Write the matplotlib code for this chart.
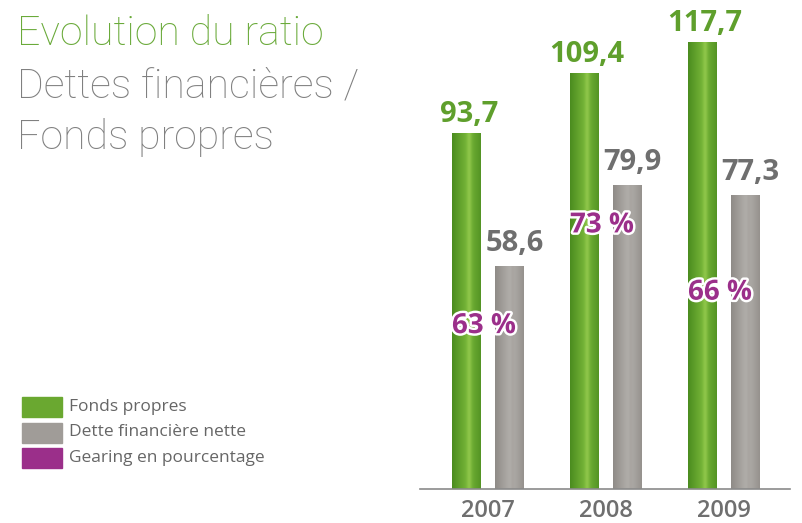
import numpy as np
import matplotlib
matplotlib.use('Agg')
import matplotlib.pyplot as plt
import matplotlib.patheffects as pe
from matplotlib.patches import Rectangle

# données
annees = ['2007', '2008', '2009']
fonds_propres = [93.7, 109.4, 117.7]
dette_nette = [58.6, 79.9, 77.3]
gearing = ['63 %', '73 %', '66 %']
legende = ['Fonds propres', 'Dette financière nette', 'Gearing en pourcentage']

# position verticale des étiquettes de gearing (en unités de l'axe)
gearing_y = [43.0, 69.5, 51.8]

vert = '#5f9f2c'
gris = '#6f6f6f'
violet = '#9b2f8a'

plt.rcParams['font.family'] = ['Open Sans', 'DejaVu Sans']

fig = plt.figure(figsize=(8.02, 5.23), dpi=100)
ax = fig.add_axes([420/802, 34/523, 370/802, 489/523])

x = np.arange(len(annees))
w = 0.245
d = 0.182


def texture(ax, bar, cols):
    # dégradé horizontal pour imiter la texture
    prof = np.linspace(0, 1, 64)
    c0 = np.array(matplotlib.colors.to_rgb(cols[0]))
    c1 = np.array(matplotlib.colors.to_rgb(cols[1]))
    c2 = np.array(matplotlib.colors.to_rgb(cols[2]))
    t = np.clip(1 - np.abs(prof - 0.55) / 0.55, 0, 1)
    img = c0[None, :] * (1 - t[:, None]) + c1[None, :] * t[:, None]
    rib = np.exp(-((prof - 0.6) / 0.08) ** 2)
    img = img * (1 - 0.5 * rib[:, None]) + c2[None, :] * 0.5 * rib[:, None]
    img = np.tile(img[None, :, :], (8, 1, 1))
    x0, y0 = bar.get_x(), bar.get_y()
    im = ax.imshow(img, extent=[x0, x0 + bar.get_width(), y0, y0 + bar.get_height()],
                   aspect='auto', zorder=2, interpolation='bilinear')
    im.set_clip_path(bar)


b1 = ax.bar(x - d, fonds_propres, w, color='#66a92f', zorder=1)
b2 = ax.bar(x + d, dette_nette, w, color='#aaa6a2', zorder=1)
for b in b1:
    texture(ax, b, ['#4b8c1f', '#79b83a', '#a6d65a'])
for b in b2:
    texture(ax, b, ['#8f8b87', '#b4b1ad', '#a29e9a'])

for i in range(len(annees)):
    ax.annotate(f'{fonds_propres[i]:.1f}'.replace('.', ','), (x[i] - d, fonds_propres[i]),
                xytext=(2, 3), textcoords='offset points', ha='center', va='bottom',
                fontsize=21, fontweight='bold', color=vert, zorder=5)
    ax.annotate(f'{dette_nette[i]:.1f}'.replace('.', ','), (x[i] + d, dette_nette[i]),
                xytext=(4, 6), textcoords='offset points', ha='center', va='bottom',
                fontsize=21, fontweight='bold', color=gris, zorder=5)
    ax.text(x[i] - 0.03, gearing_y[i], gearing[i], ha='center', va='center',
            fontsize=20, fontweight='bold', color=violet, zorder=6,
            path_effects=[pe.withStroke(linewidth=3.5, foreground='white')])

ax.set_xlim(-0.572, 2.563)
ax.set_ylim(0, 128.7)
ax.set_xticks(x)
ax.set_xticklabels(annees, fontsize=17, fontweight='semibold', color=gris)
ax.tick_params(axis='x', length=0, pad=7)
ax.set_yticks([])
for s in ['top', 'left', 'right']:
    ax.spines[s].set_visible(False)
ax.spines['bottom'].set_color('#8a8a8a')
ax.spines['bottom'].set_linewidth(1.2)
ax.patch.set_alpha(0)

# titre
titre = dict(fontsize=29.5, fontfamily=['Roboto', 'DejaVu Sans'], fontweight='light',
             va='baseline', ha='left')
fig.text(17/802, 1 - 45/523, 'Evolution du ratio', color='#6aaa3a', **titre)
fig.text(17/802, 1 - 97/523, 'Dettes financières /', color='#808080', **titre)
fig.text(17/802, 1 - 149/523, 'Fonds propres', color='#808080', **titre)

# légende
leg_cols = ['#6aa830', '#a09c98', violet]
for k, (lab, c) in enumerate(zip(legende, leg_cols)):
    yc = 407 + k * 25.5
    fig.add_artist(Rectangle((22/802, 1 - (yc + 10)/523), 40/802, 20/523,
                             color=c, transform=fig.transFigure))
    fig.text(69/802, 1 - yc/523, lab, fontsize=12.5, color='#666666',
             va='center', ha='left')

fig.savefig('out.png', dpi=100)
